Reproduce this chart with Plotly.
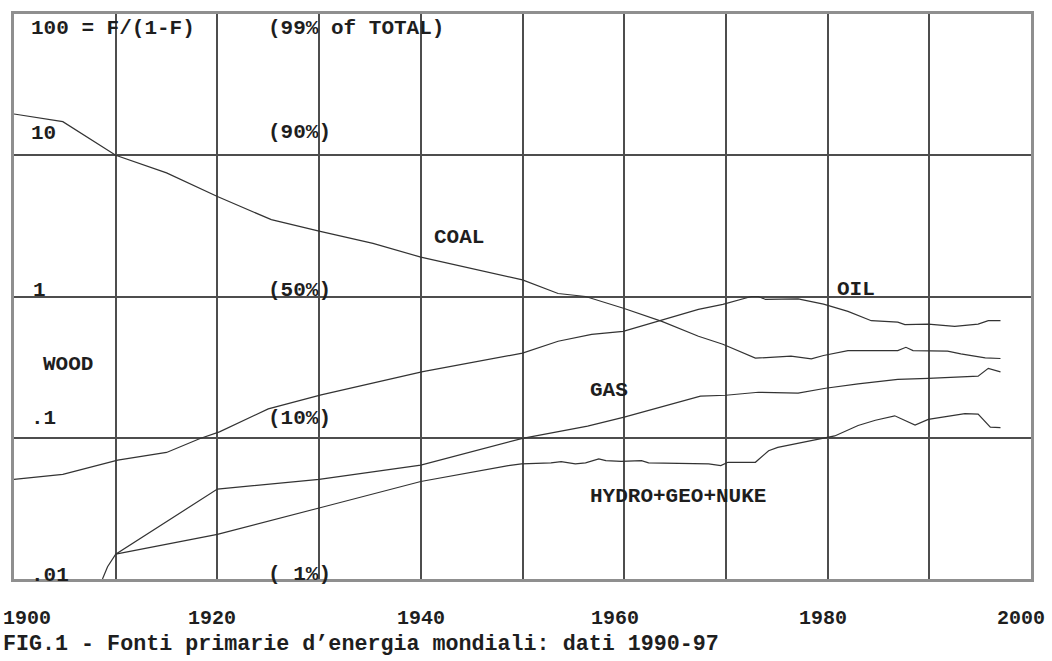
import plotly.graph_objects as go

# ---- data (F/(1-F) for each primary energy source) ----
coal_years = [1900, 1904.8, 1910, 1915, 1920, 1925.3, 1930, 1935.3, 1940, 1950, 1953.5,
              1956.2, 1960, 1963.7, 1967.3, 1969.7, 1972.9, 1976.4, 1978.4, 1979.6, 1982,
              1986.9, 1987.7, 1988.4, 1991.8, 1993.1, 1995.5, 1997]
coal_vals = [19.6, 17.3, 10.0, 7.5, 5.1, 3.5, 2.9, 2.38, 1.90, 1.31, 1.05,
             1.0, 0.823, 0.667, 0.523, 0.459, 0.366, 0.378, 0.362, 0.382, 0.414,
             0.414, 0.437, 0.414, 0.410, 0.392, 0.368, 0.364]

oil_years = [1900, 1904.8, 1910.2, 1915, 1918.3, 1920.2, 1925, 1930.2, 1940.2, 1950, 1953.5,
             1956.8, 1959.9, 1963.7, 1967.3, 1969.7, 1972.5, 1973.2, 1973.9, 1977.1, 1979.6,
             1982, 1984.3, 1986.9, 1987.6, 1989.9, 1992.5, 1994.8, 1995.8, 1997]
oil_vals = [0.0508, 0.055, 0.0695, 0.0787, 0.0987, 0.110, 0.160, 0.201, 0.294, 0.397, 0.482,
            0.540, 0.567, 0.678, 0.81, 0.879, 1.0, 1.0, 0.953, 0.963, 0.883,
            0.784, 0.674, 0.659, 0.632, 0.638, 0.615, 0.638, 0.674, 0.674]

gas_years = [1908.7, 1909.2, 1910, 1920, 1930, 1940, 1950, 1956.4, 1960, 1967.5, 1970,
             1973.2, 1977.1, 1979.8, 1983, 1986.9, 1989.9, 1994.8, 1995.8, 1997]
gas_vals = [0.0100, 0.0122, 0.0150, 0.0433, 0.0508, 0.064, 0.099, 0.121, 0.140, 0.197, 0.200,
            0.210, 0.207, 0.224, 0.241, 0.259, 0.263, 0.273, 0.310, 0.293]

hydro_years = [1910, 1920, 1930, 1940, 1948.6, 1949.9, 1952.8, 1953.8, 1955.2, 1956.2, 1957.5,
               1958.2, 1959.7, 1961.7, 1962.4, 1968.3, 1969.5, 1970.2, 1972.9, 1974.2, 1975.1,
               1979.8, 1980.7, 1983, 1984.7, 1986.6, 1988.6, 1989.9, 1991.8, 1993.5, 1994.8,
               1996, 1997]
hydro_vals = [0.0150, 0.0207, 0.0318, 0.049, 0.0635, 0.0653, 0.0664, 0.0678, 0.0653, 0.0664, 0.0708,
              0.0689, 0.068, 0.0689, 0.0664, 0.0653, 0.0635, 0.067, 0.067, 0.081, 0.0855,
              0.100, 0.103, 0.122, 0.133, 0.143, 0.123, 0.135, 0.141, 0.148, 0.147,
              0.119, 0.118]

year_ticks = [1900, 1920, 1940, 1960, 1980, 2000]
year_labels = ["1900", "1920", "1940", "1960", "1980", "2000"]

caption = "FIG.1 - Fonti primarie d\u2019energia mondiali: dati 1990-97"

# ---- layout geometry (pixels) ----
W, H = 1052, 661
L, R, T, B = 14, 21, 11, 82
PW, PH = W - L - R, H - T - B

FONT = "Liberation Mono"
TXT = "#1e1e1e"
LINE = dict(color="#333333", width=1.2)


def px(x):
    return (x - L) / PW


def py(y):
    return (H - B - y) / PH


fig = go.Figure()
for xs, ys in [(coal_years, coal_vals), (oil_years, oil_vals),
               (gas_years, gas_vals), (hydro_years, hydro_vals)]:
    fig.add_trace(go.Scatter(x=xs, y=ys, mode="lines", line=LINE,
                             showlegend=False, hoverinfo="skip"))

# in-plot texts: (text, left x px, centre y px)
plot_texts = [
    ("100 = F/(1-F)", 30, 26),
    ("(99% of TOTAL)", 267, 26),
    ("10", 30, 131),
    ("(90%)", 267, 130),
    ("COAL", 433, 236),
    ("1", 32, 289),
    ("(50%)", 267, 289),
    ("OIL", 836, 288),
    ("WOOD", 42, 363),
    ("GAS", 589, 390),
    (".1", 30, 418),
    ("(10%)", 267, 418),
    ("HYDRO+GEO+NUKE", 589, 496),
    (".01", 30, 575),
    ("( 1%)", 267, 574),
]
annotations = []
for txt, x, y in plot_texts:
    annotations.append(dict(text="<b>" + txt + "</b>", x=px(x), y=py(y),
                            xref="paper", yref="paper",
                            xanchor="left", yanchor="middle", showarrow=False,
                            font=dict(family=FONT, size=21, color=TXT),
                            borderpad=0))

shifts = [13, -5, 0, -9, -5, -10]
for yr, lab, sh in zip(year_ticks, year_labels, shifts):
    annotations.append(dict(text="<b>" + lab + "</b>", x=yr, y=py(619), xref="x", yref="paper",
                            xanchor="center", yanchor="middle", xshift=sh, showarrow=False,
                            font=dict(family=FONT, size=20, color=TXT), borderpad=0))

annotations.append(dict(text="<b>" + caption + "</b>", x=px(2), y=py(645),
                        xref="paper", yref="paper",
                        xanchor="left", yanchor="middle", showarrow=False,
                        font=dict(family=FONT, size=21.7, color=TXT), borderpad=0))

fig.update_layout(
    width=W, height=H,
    margin=dict(l=L, r=R, t=T, b=B),
    paper_bgcolor="white", plot_bgcolor="white",
    annotations=annotations,
    xaxis=dict(range=[1900, 2000], dtick=10, tick0=1900, showgrid=True,
               gridcolor="#4d4d4d", gridwidth=1.8, showticklabels=False, ticks="",
               zeroline=False, showline=True, mirror=True, linecolor="#8f8f8f",
               linewidth=3, fixedrange=True),
    yaxis=dict(type="log", range=[-2, 2], dtick=1, showgrid=True,
               gridcolor="#4d4d4d", gridwidth=1.8, showticklabels=False, ticks="",
               zeroline=False, showline=True, mirror=True, linecolor="#8f8f8f",
               linewidth=3, fixedrange=True),
)

fig.write_html("out.html")
